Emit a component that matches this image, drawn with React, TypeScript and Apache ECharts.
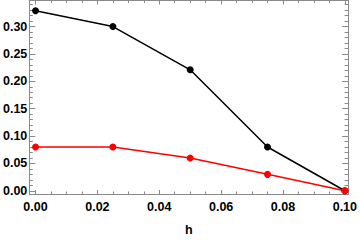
import React, { useEffect, useRef } from "react";
import * as echarts from "echarts";

const hValues = [0, 0.025, 0.05, 0.075, 0.1];
const blackSeries = [0.329, 0.3, 0.221, 0.08, 0.0];
const redSeries = [0.08, 0.08, 0.06, 0.03, 0.0];
const xMajorTicks = [0, 0.02, 0.04, 0.06, 0.08, 0.1];
const xMinorTicks = [0.005, 0.01, 0.015, 0.025, 0.03, 0.035, 0.045, 0.05, 0.055, 0.065, 0.07, 0.075, 0.085, 0.09, 0.095];
const yMajorTicks = [0, 0.05, 0.1, 0.15, 0.2, 0.25, 0.3];
const yMinorTicks = [0.01, 0.02, 0.03, 0.04, 0.06, 0.07, 0.08, 0.09, 0.11, 0.12, 0.13, 0.14, 0.16, 0.17, 0.18, 0.19, 0.21, 0.22, 0.23, 0.24, 0.26, 0.27, 0.28, 0.29, 0.31, 0.32, 0.33, 0.34];

const X_MIN = -0.00201;
const X_MAX = 0.10105;
const Y_MIN = -0.0059;
const Y_MAX = 0.3476;
const FRAME = "#8a8a8a";
const FONT = "'Liberation Sans', Arial, sans-serif";

export default function App() {
  const ref = useRef<HTMLDivElement>(null);
  useEffect(() => {
    if (!ref.current) return;
    const chart = echarts.init(ref.current, null, { renderer: "svg" });
    const labelStyle = {
      color: "#000",
      fontWeight: "bold" as const,
      fontSize: 12.5,
      fontFamily: FONT,
    };
    const xAx = (pos: "bottom" | "top", ticks: number[], len: number, labels: boolean, name?: string) => ({
      type: "value",
      position: pos,
      min: X_MIN,
      max: X_MAX,
      name,
      nameLocation: "middle",
      nameGap: 29,
      nameTextStyle: labelStyle,
      axisLine: { show: true, onZero: false, lineStyle: { color: FRAME, width: 1 } },
      axisTick: { show: true, inside: true, length: len, customValues: ticks, lineStyle: { color: FRAME, width: 1 } },
      axisLabel: labels
        ? { show: true, customValues: ticks, margin: 6, formatter: (v: number) => v.toFixed(2), ...labelStyle }
        : { show: false },
      splitLine: { show: false },
    });
    const yAx = (pos: "left" | "right", ticks: number[], len: number, labels: boolean) => ({
      type: "value",
      position: pos,
      min: Y_MIN,
      max: Y_MAX,
      axisLine: { show: true, onZero: false, lineStyle: { color: FRAME, width: 1 } },
      axisTick: { show: true, inside: true, length: len, customValues: ticks, lineStyle: { color: FRAME, width: 1 } },
      axisLabel: labels
        ? { show: true, customValues: ticks, margin: 2, formatter: (v: number) => v.toFixed(2), ...labelStyle }
        : { show: false },
      splitLine: { show: false },
    });
    chart.setOption({
      animation: false,
      backgroundColor: "#fff",
      grid: { left: 27, right: 10, top: 0.5, height: 202.2, containLabel: false },
      xAxis: [
        xAx("bottom", xMajorTicks, 4, true, "h"),
        xAx("bottom", xMinorTicks, 2.5, false),
        xAx("top", xMajorTicks, 4, false),
        xAx("top", xMinorTicks, 2.5, false),
      ],
      yAxis: [
        yAx("left", yMajorTicks, 6, true),
        yAx("left", yMinorTicks, 3.5, false),
        yAx("right", yMajorTicks, 6, false),
        yAx("right", yMinorTicks, 3.5, false),
      ],
      series: [
        {
          type: "line",
          data: hValues.map((h, i) => [h, blackSeries[i]]),
          symbol: "circle",
          symbolSize: 7,
          itemStyle: { color: "#000" },
          lineStyle: { color: "#000", width: 1.5 },
        },
        {
          type: "line",
          data: hValues.map((h, i) => [h, redSeries[i]]),
          symbol: "circle",
          symbolSize: 7,
          itemStyle: { color: "#ff0000" },
          lineStyle: { color: "#ff0000", width: 1.5 },
        },
      ],
    });
    return () => chart.dispose();
  }, []);
  return <div ref={ref} style={{ width: 360, height: 241, position: "absolute", left: 0, top: 0 }} />;
}
